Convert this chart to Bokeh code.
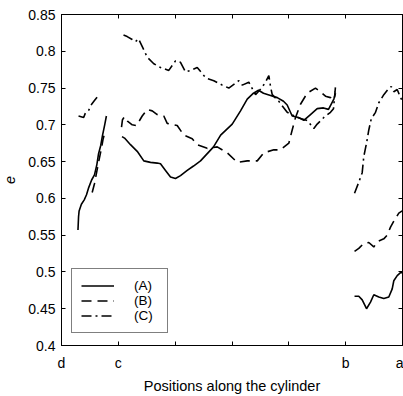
import numpy as np
from bokeh.plotting import figure
from bokeh.models import Range1d, FixedTicker, LinearAxis, Legend, LegendItem
from bokeh.embed import file_html
from bokeh.resources import INLINE

# ---- data (positions along the cylinder: d=0, c=1, b=5, a=6) ----
A1_x = [0.29, 0.30, 0.31, 0.35, 0.40, 0.44, 0.48, 0.53, 0.58, 0.62, 0.65, 0.69, 0.72, 0.76, 0.79]
A1_y = [0.557, 0.575, 0.583, 0.592, 0.598, 0.605, 0.615, 0.625, 0.632, 0.645, 0.660, 0.672, 0.685, 0.700, 0.712]
A2_x = [1.065, 1.109, 1.214, 1.332, 1.448, 1.566, 1.684, 1.742, 1.830, 1.918, 2.006, 2.094, 2.212, 2.323,
        2.446, 2.675, 2.80, 3.004, 3.150, 3.268, 3.378, 3.466, 3.554, 3.678, 3.796, 3.906, 3.971, 4.059,
        4.170, 4.264, 4.381, 4.499, 4.610, 4.698, 4.792, 4.821]
A2_y = [0.684, 0.682, 0.673, 0.664, 0.651, 0.649, 0.648, 0.647, 0.638, 0.629, 0.627, 0.631, 0.638, 0.644,
        0.651, 0.670, 0.686, 0.701, 0.719, 0.735, 0.743, 0.747, 0.743, 0.740, 0.737, 0.732, 0.727, 0.712,
        0.710, 0.706, 0.714, 0.722, 0.723, 0.721, 0.735, 0.743]
A3_x = [5.156, 5.231, 5.291, 5.367, 5.437, 5.495, 5.583, 5.671, 5.759, 5.819, 5.847, 5.907, 5.965, 6.0]
A3_y = [0.467, 0.467, 0.462, 0.450, 0.459, 0.469, 0.466, 0.464, 0.466, 0.477, 0.488, 0.495, 0.499, 0.499]

B1_x = [0.54, 0.58, 0.63, 0.66, 0.70, 0.73, 0.77]
B1_y = [0.608, 0.620, 0.640, 0.652, 0.667, 0.680, 0.692]
B2_x = [1.056, 1.073, 1.109, 1.161, 1.244, 1.320, 1.420, 1.508, 1.596, 1.684, 1.800, 1.860, 2.036, 2.152,
        2.300, 2.388, 2.564, 2.740, 2.916, 3.092, 3.268, 3.444, 3.560, 3.736, 3.854, 4.000, 4.059, 4.118,
        4.205, 4.323, 4.469, 4.557, 4.645, 4.733, 4.813]
B2_y = [0.697, 0.707, 0.711, 0.705, 0.700, 0.699, 0.712, 0.721, 0.719, 0.714, 0.712, 0.702, 0.699, 0.686,
        0.681, 0.673, 0.668, 0.670, 0.662, 0.649, 0.651, 0.651, 0.662, 0.666, 0.666, 0.675, 0.693, 0.710,
        0.728, 0.743, 0.750, 0.745, 0.739, 0.737, 0.745]
B3_x = [5.156, 5.231, 5.319, 5.407, 5.495, 5.555, 5.671, 5.731, 5.789, 5.847, 5.935, 5.995]
B3_y = [0.528, 0.532, 0.539, 0.540, 0.534, 0.541, 0.545, 0.550, 0.561, 0.569, 0.580, 0.583]

C1_x = [0.30, 0.39, 0.42, 0.48, 0.53, 0.58, 0.63]
C1_y = [0.712, 0.710, 0.716, 0.720, 0.728, 0.733, 0.738]
C2_x = [1.091, 1.156, 1.244, 1.302, 1.355, 1.448, 1.508, 1.624, 1.742, 1.888, 2.006, 2.094, 2.182, 2.270,
        2.388, 2.504, 2.564, 2.680, 2.828, 2.944, 3.120, 3.180, 3.296, 3.414, 3.519, 3.590, 3.648, 3.678,
        3.708, 3.824, 3.971, 4.148, 4.323, 4.440, 4.499, 4.616, 4.733, 4.786, 4.821]
C2_y = [0.822, 0.820, 0.816, 0.813, 0.817, 0.802, 0.792, 0.783, 0.778, 0.774, 0.787, 0.785, 0.772, 0.774,
        0.778, 0.767, 0.763, 0.760, 0.754, 0.750, 0.760, 0.754, 0.758, 0.741, 0.750, 0.758, 0.767, 0.752,
        0.741, 0.732, 0.717, 0.710, 0.706, 0.695, 0.701, 0.710, 0.717, 0.722, 0.752]
C3_x = [5.156, 5.231, 5.291, 5.319, 5.367, 5.407, 5.450, 5.525, 5.583, 5.671, 5.742, 5.802, 5.847, 5.907, 5.965, 6.0]
C3_y = [0.607, 0.622, 0.635, 0.657, 0.675, 0.693, 0.708, 0.717, 0.730, 0.741, 0.748, 0.752, 0.745, 0.748, 0.737, 0.732]

x_tick_pos = [0, 1, 2, 3, 4, 5, 6]
x_tick_labels = ["d", "c", "", "", "", "b", "a"]
y_tick_pos = [0.4, 0.45, 0.5, 0.55, 0.6, 0.65, 0.7, 0.75, 0.8, 0.85]
y_tick_labels = ["0.4", "0.45", "0.5", "0.55", "0.6", "0.65", "0.7", "0.75", "0.8", "0.85"]
series_names = ["(A)", "(B)", "(C)"]


def joined(*segs):
    xs, ys = [], []
    for i, (sx, sy) in enumerate(segs):
        if i:
            xs.append(np.nan)
            ys.append(np.nan)
        xs += list(sx)
        ys += list(sy)
    return xs, ys


FONT = "Liberation Sans"

p = figure(width=403, height=396, output_backend="svg", toolbar_location=None,
           x_range=Range1d(0, 6), y_range=Range1d(0.4, 0.85),
           min_border_left=61, min_border_right=1, min_border_top=14, min_border_bottom=41)
p.xgrid.visible = False
p.ygrid.visible = False
p.outline_line_color = "black"
p.outline_line_width = 1
p.background_fill_color = "white"
p.border_fill_color = "white"

ax, ay = joined((A1_x, A1_y), (A2_x, A2_y), (A3_x, A3_y))
bx, by = joined((B1_x, B1_y), (B2_x, B2_y), (B3_x, B3_y))
cx, cy = joined((C1_x, C1_y), (C2_x, C2_y), (C3_x, C3_y))

rA = p.line(ax, ay, line_color="black", line_width=1.6)
rB = p.line(bx, by, line_color="black", line_width=1.6, line_dash="10 6")
rC = p.line(cx, cy, line_color="black", line_width=1.6, line_dash="10 4 2 4")

# labelled ticks as major ticks, unlabelled ticks as (inward) minor ticks
x_major = [t for t, l in zip(x_tick_pos, x_tick_labels) if l]
x_minor = [t for t, l in zip(x_tick_pos, x_tick_labels) if not l]

xa = p.xaxis[0]
xa.ticker = FixedTicker(ticks=x_major, minor_ticks=x_minor)
xa.major_label_overrides = {k: v for k, v in zip(x_tick_pos, x_tick_labels) if v}
ya = p.yaxis[0]
ya.ticker = FixedTicker(ticks=y_tick_pos, minor_ticks=[])
ya.major_label_overrides = {k: v for k, v in zip(y_tick_pos, y_tick_labels)}
xa.axis_label = "Positions along the cylinder"
ya.axis_label = "e"
ya.axis_label_text_font_style = "italic"
xa.axis_label_text_font_style = "normal"

top = LinearAxis(ticker=FixedTicker(ticks=[], minor_ticks=x_tick_pos))
right = LinearAxis(ticker=FixedTicker(ticks=[], minor_ticks=y_tick_pos))
p.add_layout(top, "above")
p.add_layout(right, "right")

for a in [xa, ya, top, right]:
    a.axis_line_color = "black"
    a.axis_line_width = 1
    a.major_tick_in = 4
    a.major_tick_out = 0
    a.minor_tick_in = 4
    a.minor_tick_out = 0
    a.minor_tick_line_color = "black"
    a.minor_tick_line_width = 1
    a.major_tick_line_color = "black"
    a.major_label_text_font = FONT
    a.major_label_text_font_size = "14px"
    a.major_label_text_color = "black"
    a.axis_label_text_font = FONT
    a.axis_label_text_font_size = "14.5px"
    a.axis_label_text_color = "black"
top.major_label_standoff = 0
right.major_label_standoff = 0
xa.major_label_standoff = 9
ya.major_label_standoff = 6
xa.axis_label_standoff = 4
ya.axis_label_standoff = 10

legend = Legend(items=[LegendItem(label=series_names[0], renderers=[rA]),
                       LegendItem(label=series_names[1], renderers=[rB]),
                       LegendItem(label=series_names[2], renderers=[rC])],
                location=(10, 12))
legend.border_line_color = "black"
legend.border_line_width = 1.5
legend.background_fill_color = "white"
legend.background_fill_alpha = 1
legend.padding = 9
legend.spacing = 0
legend.margin = 0
legend.glyph_width = 33
legend.glyph_height = 15
legend.label_height = 15
legend.label_width = 24
legend.label_standoff = 20
legend.label_text_font = FONT
legend.label_text_font_size = "13.5px"
legend.label_text_color = "black"
p.add_layout(legend, "center")

open("out.html", "w").write(file_html(p, INLINE))
